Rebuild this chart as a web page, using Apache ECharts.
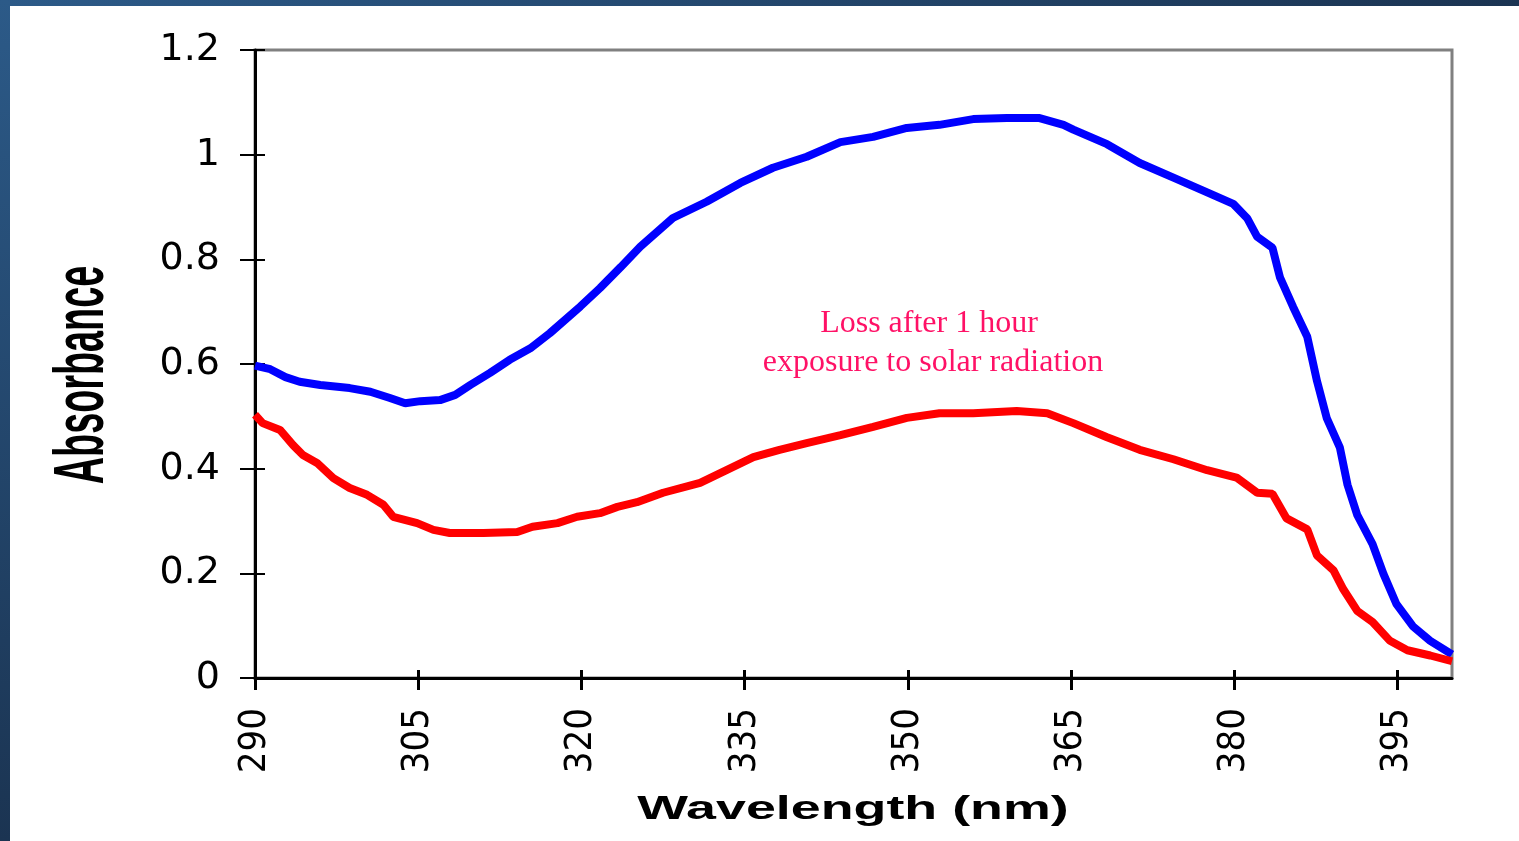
<!DOCTYPE html>
<html>
<head>
<meta charset="utf-8">
<script src="https://cdn.jsdelivr.net/npm/echarts@6/dist/echarts.min.js"></script>
<style>
html,body{margin:0;padding:0;background:#fff;width:1519px;height:841px;overflow:hidden;}
#chart{position:absolute;left:0;top:0;width:1519px;height:841px;}
#ftop{position:absolute;left:0;top:0;width:1519px;height:6px;background:linear-gradient(to right,#2c5a88,#1b3452);}
#fleft{position:absolute;left:0;top:0;width:10px;height:841px;background:linear-gradient(to bottom,#2c5a88,#1b3452);}
</style>
</head>
<body>
<div id="chart"></div>
<div id="ftop"></div>
<div id="fleft"></div>
<script>
// Wavelength ticks and absorbance ticks
const xTicks = [290, 305, 320, 335, 350, 365, 380, 395];
const yTicks = [0, 0.2, 0.4, 0.6, 0.8, 1, 1.2];

// Blue curve (before exposure)
const blueNm = [290,291.4,292.8,294.1,296,298.7,300.6,302.4,303.8,305.2,307,308.4,309.8,311.6,313.4,315.3,317.1,319.9,321.7,323.6,325.4,328.4,331.5,334.6,337.6,340.7,343.8,346.8,349.9,352.9,356,359.1,362.1,364.3,365.2,368.3,371.3,374.4,377.5,379.9,381.2,382.1,383.5,384.2,385.4,386.7,387.6,388.5,389.7,390.4,391.3,392.7,393.7,394.9,396.4,398,400];
const blueAbs = [0.597,0.59,0.575,0.566,0.56,0.554,0.547,0.535,0.525,0.529,0.531,0.541,0.56,0.583,0.608,0.63,0.659,0.71,0.745,0.785,0.824,0.879,0.91,0.946,0.975,0.996,1.024,1.034,1.051,1.057,1.068,1.07,1.07,1.057,1.048,1.02,0.984,0.956,0.928,0.906,0.878,0.843,0.822,0.765,0.709,0.652,0.567,0.496,0.44,0.369,0.311,0.256,0.199,0.141,0.099,0.071,0.045];

// Red curve (after 1 hour exposure)
const redNm = [290,290.7,292.3,293.5,294.4,295.7,297.2,298.7,300.3,301.8,302.7,304.9,306.4,307.9,311,314.1,315.5,317.8,319.6,321.7,323.3,325.1,327.5,330.9,335.8,338.2,340.7,343.8,346.8,349.9,352.9,356,360,362.8,365.2,368.3,371.3,374.4,377.5,380.2,382.1,383.5,384.8,386.7,387.6,389.1,390,391.3,392.7,394.3,395.9,398,400];
const redAbs = [0.503,0.487,0.474,0.445,0.426,0.411,0.382,0.363,0.35,0.331,0.308,0.296,0.283,0.277,0.277,0.279,0.289,0.296,0.308,0.315,0.327,0.336,0.354,0.373,0.422,0.436,0.449,0.464,0.48,0.497,0.506,0.506,0.51,0.506,0.487,0.46,0.436,0.418,0.397,0.383,0.354,0.352,0.305,0.284,0.234,0.206,0.17,0.128,0.107,0.071,0.053,0.043,0.032];

const xTitle = 'Wavelength (nm)';
const yTitle = 'Absorbance';
const noteLines = ['Loss after 1 hour', 'exposure to solar radiation'];

const chart = echarts.init(document.getElementById('chart'), null, {renderer: 'canvas'});

function pairs(xs, ys) { return xs.map((x, i) => [x, ys[i]]); }

const xBase = {
  type: 'value', min: 290, max: 400, interval: 15,
  splitLine: {show: false}
};
const yBase = {
  type: 'value', min: 0, max: 1.2, interval: 0.2,
  splitLine: {show: false}
};

chart.setOption({
  animation: false,
  backgroundColor: 'transparent',
  grid: {left: 255, right: 67, top: 50, bottom: 163, show: true, borderColor: '#808080', borderWidth: 3, backgroundColor: 'transparent'},
  xAxis: [
    Object.assign({}, xBase, {
      position: 'bottom',
      axisLine: {show: true, lineStyle: {color: '#000', width: 3}},
      axisTick: {show: true, inside: false, length: 12, lineStyle: {color: '#000', width: 3}, customValues: xTicks},
      axisLabel: {show: true, rotate: 90, margin: 30, color: '#000', fontSize: 38, fontFamily: '"Liberation Sans Narrow", "DejaVu Sans Condensed", "Liberation Sans", sans-serif', customValues: xTicks}
    }),
    Object.assign({}, xBase, {
      position: 'bottom',
      axisLine: {show: false},
      axisTick: {show: true, inside: true, length: 8, lineStyle: {color: '#000', width: 3}, customValues: xTicks},
      axisLabel: {show: false}
    })
  ],
  yAxis: [
    Object.assign({}, yBase, {
      position: 'left',
      axisLine: {show: true, lineStyle: {color: '#000', width: 3}},
      axisTick: {show: true, inside: false, length: 15, lineStyle: {color: '#000', width: 2}},
      axisLabel: {show: true, margin: 35, color: '#000', fontSize: 38, fontFamily: '"DejaVu Sans", sans-serif'}
    }),
    Object.assign({}, yBase, {
      position: 'left',
      axisLine: {show: false},
      axisTick: {show: true, inside: true, length: 10, lineStyle: {color: '#000', width: 2}},
      axisLabel: {show: false}
    })
  ],
  series: [
    {
      type: 'line', name: 'Before', data: pairs(blueNm, blueAbs),
      showSymbol: false, smooth: false,
      lineStyle: {color: '#0000ff', width: 8}, z: 3
    },
    {
      type: 'line', name: 'After', data: pairs(redNm, redAbs),
      showSymbol: false, smooth: false,
      lineStyle: {color: '#ff0000', width: 8}, z: 4
    }
  ],
  graphic: [
    {
      type: 'text', x: 84, y: 375, rotation: Math.PI / 2, scaleX: 0.54,
      style: {text: yTitle, fill: '#000', font: 'bold 70px "Liberation Sans", Arial, sans-serif', textAlign: 'center', textVerticalAlign: 'middle'}
    },
    {
      type: 'text', x: 853, y: 810, scaleX: 1.63,
      style: {text: xTitle, fill: '#000', font: 'bold 33px "Liberation Sans", Arial, sans-serif', textAlign: 'center', textVerticalAlign: 'middle'}
    },
    {
      type: 'text', x: 929, y: 324,
      style: {text: noteLines[0], fill: '#ff1166', font: '32px "Liberation Serif", "Times New Roman", serif', textAlign: 'center', textVerticalAlign: 'middle'}
    },
    {
      type: 'text', x: 933, y: 363,
      style: {text: noteLines[1], fill: '#ff1166', font: '32px "Liberation Serif", "Times New Roman", serif', textAlign: 'center', textVerticalAlign: 'middle'}
    }
  ]
});
</script>
</body>
</html>
